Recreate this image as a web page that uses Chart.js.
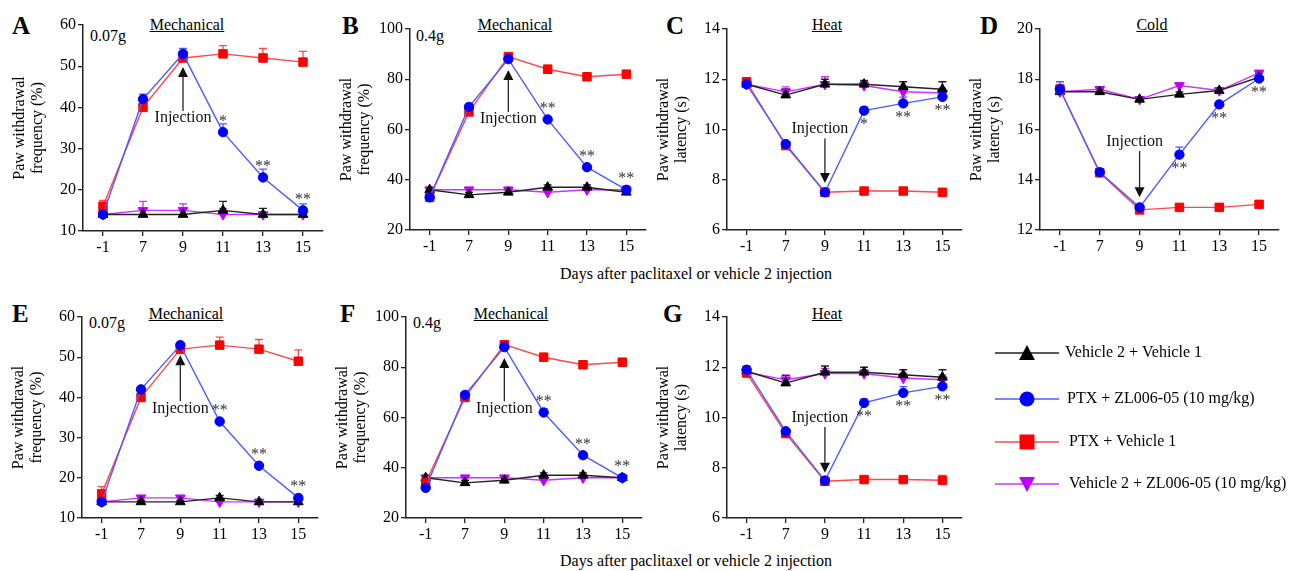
<!DOCTYPE html>
<html>
<head>
<meta charset="utf-8">
<script src="https://cdn.jsdelivr.net/npm/chart.js@4.4.1/dist/chart.umd.min.js"></script>
<style>
  body { margin: 0; background: #fff; width: 1290px; height: 571px; overflow: hidden; position: relative;
         font-family: 'Liberation Serif', 'Times New Roman', serif; color: #000; }
  canvas { position: absolute; }
  .lbl { position: absolute; white-space: nowrap; line-height: 1; }
  .letter { font-weight: bold; font-size: 25px; transform: translateY(-50%); }
  .ttl { font-size: 16px; text-decoration: underline; transform: translate(-50%, -50%); }
  .note { font-size: 16px; transform: translateY(-50%); }
  .xt { font-size: 16px; transform: translate(-50%, -50%); }
</style>
</head>
<body>
<div class="lbl letter" style="left:12px;top:25px">A</div>
<div class="lbl letter" style="left:342px;top:25px">B</div>
<div class="lbl letter" style="left:666px;top:25px">C</div>
<div class="lbl letter" style="left:980px;top:25px">D</div>
<div class="lbl letter" style="left:12px;top:313px">E</div>
<div class="lbl letter" style="left:340px;top:313px">F</div>
<div class="lbl letter" style="left:663px;top:313px">G</div>

<div class="lbl ttl" style="left:187px;top:24.5px">Mechanical</div>
<div class="lbl ttl" style="left:515px;top:24.5px">Mechanical</div>
<div class="lbl ttl" style="left:827px;top:24.5px">Heat</div>
<div class="lbl ttl" style="left:1152px;top:24.5px">Cold</div>
<div class="lbl ttl" style="left:186px;top:313.5px">Mechanical</div>
<div class="lbl ttl" style="left:511px;top:313.5px">Mechanical</div>
<div class="lbl ttl" style="left:827px;top:313.5px">Heat</div>

<div class="lbl note" style="left:90px;top:36px">0.07g</div>
<div class="lbl note" style="left:416px;top:36px">0.4g</div>
<div class="lbl note" style="left:89px;top:323px">0.07g</div>
<div class="lbl note" style="left:413px;top:323px">0.4g</div>

<div class="lbl xt" style="left:696px;top:274px">Days after paclitaxel or vehicle 2 injection</div>
<div class="lbl xt" style="left:696px;top:561px">Days after paclitaxel or vehicle 2 injection</div>

<canvas id="legend" width="310" height="190" style="left:980px;top:320px;width:310px;height:190px"></canvas>

<script>
// ── Data ──────────────────────────────────────────────────
const days = ['-1', '7', '9', '11', '13', '15'];

// A: mechanical 0.07 g
const vehVehA = [14, 14, 14, 15, 14, 14];
const ptxZlA  = [14, 42, 53, 34, 23, 15];
const ptxVehA = [16, 40, 52, 53, 52, 51];
const vehZlA  = [14, 15, 15, 14, 14, 14];
const vehVehErrA = [0.6, 1.3, 1.5, 2.2, 1.5, 0.6];
const ptxZlErrA  = [0.6, 1.2, 1.3, 2, 2, 1.6];
const ptxVehErrA = [1.4, 0.6, 0.6, 2, 2.3, 2.6];
const vehZlErrA  = [0.6, 2.2, 1.6, 1.5, 0.6, 0.6];
const starsA = ['', '', '', '*', '**', '**'];

// B: mechanical 0.4 g
const vehVehB = [36, 34, 35, 37, 37, 35];
const ptxZlB  = [33, 69, 88, 64, 45, 36];
const ptxVehB = [33, 67, 89, 84, 81, 82];
const vehZlB  = [36, 36, 36, 35, 36, 36];
const vehVehErrB = [1, 1, 1, 1, 1, 1];
const ptxZlErrB  = [1, 1, 1, 1, 1, 1.5];
const ptxVehErrB = [1, 1, 1, 1.5, 1.5, 1.5];
const vehZlErrB  = [1, 1, 1, 1, 1, 1];
const starsB = ['', '', '', '**', '**', '**'];

// C: heat
const vehVehC = [11.8, 11.37, 11.8, 11.8, 11.7, 11.6];
const ptxZlC  = [11.8, 9.42, 7.5, 10.75, 11.04, 11.3];
const ptxVehC = [11.9, 9.36, 7.5, 7.55, 7.55, 7.5];
const vehZlC  = [11.8, 11.5, 11.8, 11.75, 11.5, 11.45];
const vehVehErrC = [0.1, 0.25, 0.2, 0.15, 0.2, 0.3];
const ptxZlErrC  = [0.1, 0.1, 0.1, 0.15, 0.25, 0.1];
const ptxVehErrC = [0.1, 0.1, 0.1, 0.1, 0.1, 0.15];
const vehZlErrC  = [0.1, 0.2, 0.3, 0.15, 0.2, 0.2];
const starsC = ['', '', '', '*', '**', '**'];

// D: cold
const vehVehD = [17.5, 17.5, 17.2, 17.4, 17.55, 18.08];
const ptxZlD  = [17.6, 14.3, 12.9, 15.0, 17.0, 18.03];
const ptxVehD = [17.6, 14.28, 12.8, 12.9, 12.9, 13.02];
const vehZlD  = [17.5, 17.6, 17.2, 17.75, 17.55, 18.25];
const vehVehErrD = [0.1, 0.1, 0.1, 0.1, 0.1, 0.15];
const ptxZlErrD  = [0.3, 0.1, 0.1, 0.3, 0.1, 0.1];
const ptxVehErrD = [0.2, 0.1, 0.1, 0.1, 0.15, 0.15];
const vehZlErrD  = [0.15, 0.1, 0.1, 0.1, 0.1, 0.1];
const starsD = ['', '', '', '**', '**', '**'];

// E: mechanical 0.07 g
const vehVehE = [14, 14, 14, 15, 14, 14];
const ptxZlE  = [14, 42, 53, 34, 23, 15];
const ptxVehE = [16, 40, 52, 53, 52, 49];
const vehZlE  = [14, 15, 15, 14, 14, 14];
const vehVehErrE = [0.4, 0.4, 0.4, 0.6, 0.4, 0.4];
const ptxZlErrE  = [0.5, 0.5, 0.5, 0.5, 0.5, 0.5];
const ptxVehErrE = [1.8, 0.5, 0.5, 2, 2.4, 2.8];
const vehZlErrE  = [0.4, 0.6, 0.6, 0.4, 0.5, 0.4];
const starsE = ['', '', '', '**', '**', '**'];

// F: mechanical 0.4 g
const vehVehF = [36, 34, 35, 37, 37, 36];
const ptxZlF  = [32, 69, 88, 62, 45, 36];
const ptxVehF = [34, 68, 89, 84, 81, 82];
const vehZlF  = [36, 36, 36, 35, 36, 36];
const vehVehErrF = [1, 1, 1, 1, 1, 1];
const ptxZlErrF  = [1, 1, 1, 1.5, 1, 1];
const ptxVehErrF = [1, 1, 1, 1.5, 1.5, 1.5];
const vehZlErrF  = [1, 1, 1, 1, 1, 1];
const starsF = ['', '', '', '**', '**', '**'];

// G: heat
const vehVehG = [11.84, 11.37, 11.8, 11.8, 11.7, 11.6];
const ptxZlG  = [11.9, 9.45, 7.49, 10.58, 10.98, 11.24];
const ptxVehG = [11.77, 9.36, 7.46, 7.53, 7.53, 7.5];
const vehZlG  = [11.8, 11.5, 11.75, 11.75, 11.57, 11.5];
const vehVehErrG = [0.2, 0.3, 0.25, 0.2, 0.2, 0.3];
const ptxZlErrG  = [0.1, 0.1, 0.1, 0.15, 0.25, 0.1];
const ptxVehErrG = [0.1, 0.1, 0.1, 0.1, 0.1, 0.2];
const vehZlErrG  = [0.1, 0.2, 0.2, 0.15, 0.2, 0.2];
const starsG = ['', '', '', '**', '**', '**'];

// ── Styles ────────────────────────────────────────────────
const FONT = "'Liberation Serif', 'Times New Roman', serif";
const AX = '#222';

// first entry is drawn on top
const SERIES = [
  { key: 'ptxZl',  label: 'PTX + ZL006-05 (10 mg/kg)',        line: '#4c5cff', fill: '#0000ff', style: 'circle',   r: 4.7, rot: 0 },
  { key: 'ptxVeh', label: 'PTX + Vehicle 1',                  line: '#ff4848', fill: '#ff0000', style: 'rect',     r: 6.0, rot: 0 },
  { key: 'vehVeh', label: 'Vehicle 2 + Vehicle 1',            line: '#222222', fill: '#000000', style: 'triangle', r: 5.6, rot: 0 },
  { key: 'vehZl',  label: 'Vehicle 2 + ZL006-05 (10 mg/kg)',  line: '#cc33ff', fill: '#c000ff', style: 'triangle', r: 5.6, rot: 180 },
];

const MECH_TITLE = ['Paw withdrawal', 'frequency (%)'];
const LAT_TITLE  = ['Paw withdrawal', 'latency (s)'];

const panels = [
  { box: [83, 25, 323, 231], y: [10, 60, 10], title: MECH_TITLE,
    vals: { vehVeh: vehVehA, ptxZl: ptxZlA, ptxVeh: ptxVehA, vehZl: vehZlA },
    errs: { vehVeh: vehVehErrA, ptxZl: ptxZlErrA, ptxVeh: ptxVehErrA, vehZl: vehZlErrA },
    stars: starsA, below: false, inj: { text: 37.2, tip: 49.8, up: true, dx: 0 } },
  { box: [410, 29, 646, 230], y: [20, 100, 20], title: MECH_TITLE,
    vals: { vehVeh: vehVehB, ptxZl: ptxZlB, ptxVeh: ptxVehB, vehZl: vehZlB },
    errs: { vehVeh: vehVehErrB, ptxZl: ptxZlErrB, ptxVeh: ptxVehErrB, vehZl: vehZlErrB },
    stars: starsB, below: false, inj: { text: 63.8, tip: 83.7, up: true, dx: 0 } },
  { box: [727, 29, 962, 230], y: [6, 14, 2], title: LAT_TITLE,
    vals: { vehVeh: vehVehC, ptxZl: ptxZlC, ptxVeh: ptxVehC, vehZl: vehZlC },
    errs: { vehVeh: vehVehErrC, ptxZl: ptxZlErrC, ptxVeh: ptxVehErrC, vehZl: vehZlErrC },
    stars: starsC, below: true, inj: { text: 10.0, tip: 7.87, up: false, dx: -5 } },
  { box: [1040, 29, 1279, 230], y: [12, 20, 2], title: LAT_TITLE,
    vals: { vehVeh: vehVehD, ptxZl: ptxZlD, ptxVeh: ptxVehD, vehZl: vehZlD },
    errs: { vehVeh: vehVehErrD, ptxZl: ptxZlErrD, ptxVeh: ptxVehErrD, vehZl: vehZlErrD },
    stars: starsD, below: true, inj: { text: 15.5, tip: 13.3, up: false, dx: -5 } },
  { box: [82, 317, 318, 518], y: [10, 60, 10], title: MECH_TITLE,
    vals: { vehVeh: vehVehE, ptxZl: ptxZlE, ptxVeh: ptxVehE, vehZl: vehZlE },
    errs: { vehVeh: vehVehErrE, ptxZl: ptxZlErrE, ptxVeh: ptxVehErrE, vehZl: vehZlErrE },
    stars: starsE, below: false, inj: { text: 37.1, tip: 50.5, up: true, dx: 0 } },
  { box: [406, 317, 642, 518], y: [20, 100, 20], title: MECH_TITLE,
    vals: { vehVeh: vehVehF, ptxZl: ptxZlF, ptxVeh: ptxVehF, vehZl: vehZlF },
    errs: { vehVeh: vehVehErrF, ptxZl: ptxZlErrF, ptxVeh: ptxVehErrF, vehZl: vehZlErrF },
    stars: starsF, below: false, inj: { text: 63.3, tip: 83.7, up: true, dx: 0 } },
  { box: [727, 317, 962, 518], y: [6, 14, 2], title: LAT_TITLE,
    vals: { vehVeh: vehVehG, ptxZl: ptxZlG, ptxVeh: ptxVehG, vehZl: vehZlG },
    errs: { vehVeh: vehVehErrG, ptxZl: ptxZlErrG, ptxVeh: ptxVehErrG, vehZl: vehZlErrG },
    stars: starsG, below: true, inj: { text: 9.98, tip: 7.8, up: false, dx: -5 } },
];

// ── Decorations: error bars, injection arrow, significance ─
const decor = new Map();

function centeredText(ctx, txt, x, cy) {
  const m = ctx.measureText(txt);
  const asc = m.actualBoundingBoxAscent, desc = m.actualBoundingBoxDescent;
  ctx.textBaseline = 'alphabetic';
  ctx.fillText(txt, x, cy + (asc - desc) / 2);
}

const decorPlugin = {
  id: 'decor',
  beforeDatasetsDraw(chart) {
    const ctx = chart.ctx, ys = chart.scales.y;
    for (let i = chart.data.datasets.length - 1; i >= 0; i--) {
      const ds = chart.data.datasets[i];
      const meta = chart.getDatasetMeta(i);
      ctx.save();
      ctx.strokeStyle = ds.errColor;
      ctx.lineWidth = 1.3;
      meta.data.forEach((pt, j) => {
        const top = ys.getPixelForValue(ds.data[j] + ds.errs[j]);
        ctx.beginPath();
        ctx.moveTo(pt.x, pt.y);
        ctx.lineTo(pt.x, top);
        ctx.moveTo(pt.x - 4, top);
        ctx.lineTo(pt.x + 4, top);
        ctx.stroke();
      });
      ctx.restore();
    }
  },
  afterDatasetsDraw(chart) {
    const p = decor.get(chart.canvas);
    if (!p) return;
    const ctx = chart.ctx, xs = chart.scales.x, ys = chart.scales.y;
    ctx.save();
    ctx.fillStyle = '#111';
    ctx.strokeStyle = '#222';
    ctx.font = `16px ${FONT}`;
    ctx.textAlign = 'center';

    // injection arrow at day 9
    const ax = xs.getPixelForValue(2);
    const ty = ys.getPixelForValue(p.inj.text);
    const tip = ys.getPixelForValue(p.inj.tip);
    centeredText(ctx, 'Injection', ax + p.inj.dx, ty);
    const head = 10, hw = 5;
    const sgn = p.inj.up ? 1 : -1;
    const start = p.inj.up ? ty - 8 : ty + 9;
    ctx.lineWidth = 1.3;
    ctx.beginPath();
    ctx.moveTo(ax, start);
    ctx.lineTo(ax, tip + sgn * head);
    ctx.stroke();
    ctx.beginPath();
    ctx.moveTo(ax, tip);
    ctx.lineTo(ax - hw, tip + sgn * head);
    ctx.lineTo(ax + hw, tip + sgn * head);
    ctx.closePath();
    ctx.fill();

    // significance marks on PTX + ZL006-05
    const meta = chart.getDatasetMeta(0);
    ctx.fillStyle = '#333';
    p.stars.forEach((s, j) => {
      if (!s) return;
      const pt = meta.data[j];
      centeredText(ctx, s, pt.x, p.below ? pt.y + 11 : pt.y - 14);
    });
    ctx.restore();
  },
};

// ── Panels ────────────────────────────────────────────────
const PAD_TOP = 20, PAD_RIGHT = 14, Y_W = 83, X_H = 40;

function makePanel(p) {
  const [l, t, r, b] = p.box;
  const W = Math.round(r - l + Y_W + PAD_RIGHT), H = Math.round(b - t + PAD_TOP + X_H);
  const cv = document.createElement('canvas');
  cv.width = W; cv.height = H;
  cv.style.width = W + 'px'; cv.style.height = H + 'px';
  cv.style.left = (l - Y_W) + 'px'; cv.style.top = (t - PAD_TOP) + 'px';
  document.body.appendChild(cv);
  decor.set(cv, p);

  const tickFont = { family: FONT, size: 16 };
  new Chart(cv, {
    type: 'line',
    data: {
      labels: days,
      datasets: SERIES.map(s => ({
        label: s.label,
        data: p.vals[s.key],
        errs: p.errs[s.key],
        errColor: s.line,
        borderColor: s.line,
        borderWidth: 1.4,
        backgroundColor: s.fill,
        pointStyle: s.style,
        pointRotation: s.rot,
        pointRadius: s.r,
        pointBackgroundColor: s.fill,
        pointBorderColor: s.fill,
        pointBorderWidth: 1,
        tension: 0,
        fill: false,
      })),
    },
    options: {
      responsive: false,
      animation: false,
      devicePixelRatio: 1,
      layout: { padding: { top: PAD_TOP, right: PAD_RIGHT, left: 0, bottom: 0 } },
      plugins: { legend: { display: false }, tooltip: { enabled: false } },
      scales: {
        x: {
          type: 'category',
          offset: true,
          grid: { display: true, offset: false, drawOnChartArea: false, drawTicks: true, tickLength: 5, color: AX, lineWidth: 1.3 },
          border: { display: true, color: AX, width: 1.5 },
          ticks: { color: '#000', font: tickFont, padding: 2, maxRotation: 0, autoSkip: false },
          afterFit: s => { s.height = X_H; },
        },
        y: {
          min: p.y[0], max: p.y[1],
          grid: { display: true, drawOnChartArea: false, drawTicks: true, tickLength: 5, color: AX, lineWidth: 1.3 },
          border: { display: true, color: AX, width: 1.5 },
          ticks: { stepSize: p.y[2], color: '#000', font: tickFont, padding: 2 },
          title: { display: true, text: p.title, color: '#000', font: { family: FONT, size: 16, lineHeight: 1.1 }, padding: { top: 11, bottom: 0 } },
          afterFit: s => { s.width = Y_W; },
        },
      },
    },
    plugins: [decorPlugin],
  });
}

panels.forEach(makePanel);

// ── Legend ────────────────────────────────────────────────
(function drawLegend() {
  const ctx = document.getElementById('legend').getContext('2d');
  const rows = [
    { s: SERIES[2], y: 33, tx: 85 },
    { s: SERIES[0], y: 79, tx: 87 },
    { s: SERIES[1], y: 122, tx: 89 },
    { s: SERIES[3], y: 164, tx: 89 },
  ];
  ctx.font = `16px ${FONT}`;
  ctx.textBaseline = 'middle';
  rows.forEach(({ s, y, tx }) => {
    ctx.strokeStyle = s.line;
    ctx.lineWidth = 1.4;
    ctx.beginPath(); ctx.moveTo(15, y); ctx.lineTo(79, y); ctx.stroke();
    ctx.fillStyle = s.fill;
    const cx = 47;
    ctx.beginPath();
    if (s.style === 'circle') {
      ctx.arc(cx, y, 7.5, 0, Math.PI * 2);
    } else if (s.style === 'rect') {
      ctx.rect(cx - 7.5, y - 7.5, 15, 15);
    } else if (s.rot === 0) {
      ctx.moveTo(cx, y - 8); ctx.lineTo(cx + 8, y + 7); ctx.lineTo(cx - 8, y + 7);
    } else {
      ctx.moveTo(cx, y + 8); ctx.lineTo(cx + 8, y - 7); ctx.lineTo(cx - 8, y - 7);
    }
    ctx.closePath();
    ctx.fill();
    ctx.fillStyle = '#000';
    ctx.fillText(s.label, tx, y);
  });
})();
</script>
</body>
</html>
